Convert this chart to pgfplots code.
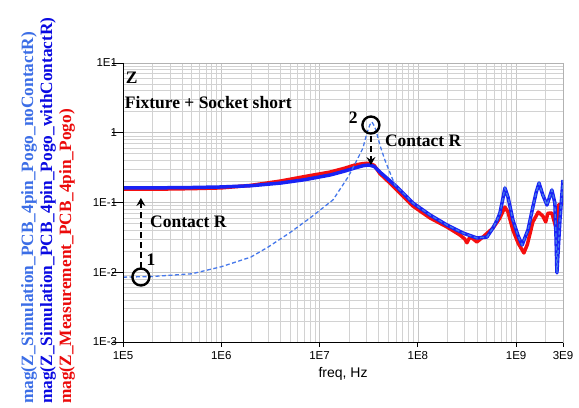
\documentclass[border=0pt]{standalone}
\usepackage{fontspec}
\setmainfont{Liberation Serif}
\newfontfamily\arialf{Liberation Sans}
\usepackage{pgfplots}
\pgfplotsset{compat=1.18}
\usetikzlibrary{arrows.meta}
\definecolor{lblue}{RGB}{70,120,235}
\definecolor{dblue}{RGB}{25,35,245}
\definecolor{mred}{RGB}{245,15,15}
\definecolor{lbllb}{RGB}{60,110,230}
\definecolor{lbldb}{RGB}{10,10,225}
\definecolor{lblred}{RGB}{235,10,10}
\newcommand\annot{\bfseries\fontsize{17.5bp}{20bp}\selectfont}
\newcommand\labf{\bfseries\fontsize{17.3bp}{20bp}\selectfont}
\newcommand\tickf{\arialf\fontsize{11.5bp}{13bp}\selectfont}
\begin{document}
\begin{tikzpicture}[x=1bp,y=1bp]
\useasboundingbox (0,0) rectangle (579,407);
\node[rotate=90,anchor=west,inner sep=0,text=lbllb,font=\labf] at (29,3) {mag(Z\_Simulation\_PCB\_4pin\_Pogo\_noContactR)};
\node[rotate=90,anchor=west,inner sep=0,text=lbldb,font=\labf] at (48,3) {mag(Z\_Simulation\_PCB\_4pin\_Pogo\_withContactR)};
\node[rotate=90,anchor=west,inner sep=0,text=lblred,font=\labf] at (67,3) {mag(Z\_Measurement\_PCB\_4pin\_Pogo)};
\begin{axis}[
 at={(123bp,65bp)}, anchor=south west,
 scale only axis, width=440bp, height=279bp,
 xmode=log, ymode=log,
 xmin=1e5, xmax=3e9, ymin=1e-3, ymax=10,
 xtick={1e5,1e6,1e7,1e8,1e9,3e9},
 xticklabels={1E5,1E6,1E7,1E8,1E9,3E9},
 ytick={1e-3,1e-2,1e-1,1,10},
 yticklabels={1E-3,1E-2,1E-1,1,1E1},
 minor xtick={2e5,3e5,4e5,5e5,6e5,7e5,8e5,9e5,2e6,3e6,4e6,5e6,6e6,7e6,8e6,9e6,2e7,3e7,4e7,5e7,6e7,7e7,8e7,9e7,2e8,3e8,4e8,5e8,6e8,7e8,8e8,9e8,2e9},
 minor ytick={2e-3,3e-3,4e-3,5e-3,6e-3,7e-3,8e-3,9e-3,2e-2,3e-2,4e-2,5e-2,6e-2,7e-2,8e-2,9e-2,2e-1,3e-1,4e-1,5e-1,6e-1,7e-1,8e-1,9e-1,2,3,4,5,6,7,8,9},
 grid=both,
 major grid style={draw=gray!45, line width=0.7bp},
 minor grid style={draw=gray!35, line width=0.7bp},
 tick align=outside, xtick pos=left, ytick pos=left,
 minor tick length=0bp,
 x tick style={/pgfplots/major tick length=5bp, black, line width=0.8bp},
 y tick style={/pgfplots/major tick length=11bp, black, line width=0.8bp},
 axis line style={draw=gray!60, line width=0.8bp},
 ticklabel style={font=\tickf, inner sep=1.5bp},
 xticklabel style={yshift=-4bp},
 xlabel={freq, Hz},
 xlabel style={font=\arialf\fontsize{14bp}{16bp}\selectfont, yshift=-2bp},
 after end axis/.code={\draw[black,line width=0.8bp] (rel axis cs:0,1) -- (rel axis cs:0,0) -- (rel axis cs:1,0);},
]
% Measurement (red)
\addplot[mred, line width=3.5bp, line join=round] coordinates {
(1e5,0.155) (2e5,0.155) (5e5,0.158) (1e6,0.162) (2e6,0.176) (4e6,0.203) (7e6,0.235) (1.28e7,0.273) (1.8e7,0.31) (2.29e7,0.345) (2.8e7,0.362) (3.2e7,0.365) (3.6e7,0.34) (4.11e7,0.26) (5e7,0.2) (6.12e7,0.151) (8.9e7,0.089) (1.33e8,0.060) (1.98e8,0.0446) (2.68e8,0.0342) (3.0e8,0.03) (3.16e8,0.0265) (3.35e8,0.031) (3.55e8,0.031) (3.99e8,0.0272) (4.59e8,0.032) (5.81e8,0.043) (6.84e8,0.060) (7.69e8,0.086) (8.26e8,0.073) (9.27e8,0.0404) (1.05e9,0.026) (1.2e9,0.0189) (1.3e9,0.025) (1.48e9,0.0526) (1.68e9,0.073) (1.87e9,0.064) (2.0e9,0.0526) (2.1e9,0.07) (2.31e9,0.0706) (2.55e9,0.043) (2.7e9,0.092) (3e9,0.098)};
% Simulation with contact R (blue)
\addplot[dblue, line width=3.5bp, line join=round] coordinates {
(1e5,0.162) (2e5,0.162) (5e5,0.164) (1e6,0.167) (2e6,0.174) (4e6,0.19) (7e6,0.212) (1.28e7,0.248) (1.8e7,0.282) (2.29e7,0.313) (2.8e7,0.338) (3.2e7,0.345) (3.6e7,0.328) (4.11e7,0.273) (5e7,0.215) (6.12e7,0.167) (8.9e7,0.0984) (1.33e8,0.0663) (1.98e8,0.0475) (2.88e8,0.0365) (3.99e8,0.031) (5.05e8,0.032) (5.8e8,0.043) (6.38e8,0.055) (6.84e8,0.0706) (7.3e8,0.11) (7.69e8,0.161) (8.26e8,0.12) (9.27e8,0.0561) (1.05e9,0.033) (1.15e9,0.0246) (1.32e9,0.0404) (1.48e9,0.0861) (1.6e9,0.14) (1.71e9,0.19) (1.87e9,0.128) (2.06e9,0.092) (2.31e9,0.151) (2.48e9,0.098) (2.55e9,0.03) (2.60e9,0.0098) (2.7e9,0.025) (2.79e9,0.056) (3e9,0.21)};
% Simulation without contact R (light blue dashed)
\addplot[lblue, line width=1.3bp, dash pattern=on 4bp off 2.5bp] coordinates {
(1e5,0.0085) (2e5,0.0087) (5e5,0.0095) (1e6,0.012) (2e6,0.0165) (3e6,0.023) (5e6,0.037) (8e6,0.060) (1.37e7,0.109) (1.95e7,0.232) (2.4e7,0.406) (2.76e7,0.60) (3.03e7,0.99) (3.25e7,1.3) (3.41e7,1.43) (3.6e7,1.25) (3.75e7,1.09) (4.11e7,0.667) (4.62e7,0.406) (5.85e7,0.178) (7.8e7,0.12) (8.9e7,0.0984) (1.33e8,0.0663) (1.98e8,0.0475) (2.88e8,0.0365) (3.99e8,0.031) (5.05e8,0.032) (5.8e8,0.043) (6.38e8,0.055) (6.84e8,0.0706) (7.3e8,0.11) (7.69e8,0.161) (8.26e8,0.12) (9.27e8,0.0561) (1.05e9,0.033) (1.15e9,0.0246) (1.32e9,0.0404) (1.48e9,0.0861) (1.6e9,0.14) (1.71e9,0.19) (1.87e9,0.128) (2.06e9,0.092) (2.31e9,0.151) (2.48e9,0.098) (2.55e9,0.03) (2.60e9,0.0098) (2.7e9,0.025) (2.79e9,0.056) (3e9,0.21)};
% marker circles
\addplot[only marks, mark=o, mark size=8.5bp, black, line width=2.4bp] coordinates {(1.52e5,0.00855) (3.33e7,1.29)};
% arrows
\draw[black, line width=1.8bp, dash pattern=on 6bp off 4bp, -{Stealth[length=8bp,width=9bp,inset=3bp]}] (axis cs:1.52e5,0.0115) -- (axis cs:1.52e5,0.116);
\draw[black, line width=1.8bp, dash pattern=on 6bp off 4bp, -{Stealth[length=8bp,width=9bp,inset=3bp]}] (axis cs:3.33e7,0.90) -- (axis cs:3.33e7,0.345);
% texts
\node[anchor=west,inner sep=0,font=\annot] at (rel axis cs:0.006,0.946) {Z};
\node[anchor=west,inner sep=0,font=\annot] at (rel axis cs:0.004,0.857) {Fixture + Socket short};
\node[anchor=west,inner sep=0,font=\annot] at (rel axis cs:0.0614,0.430) {Contact R};
\node[anchor=west,inner sep=0,font=\annot] at (rel axis cs:0.595,0.720) {Contact R};
\node[inner sep=0,font=\annot] at (rel axis cs:0.0636,0.294) {1};
\node[inner sep=0,font=\annot] at (rel axis cs:0.523,0.803) {2};
\end{axis}
\end{tikzpicture}
\end{document}
